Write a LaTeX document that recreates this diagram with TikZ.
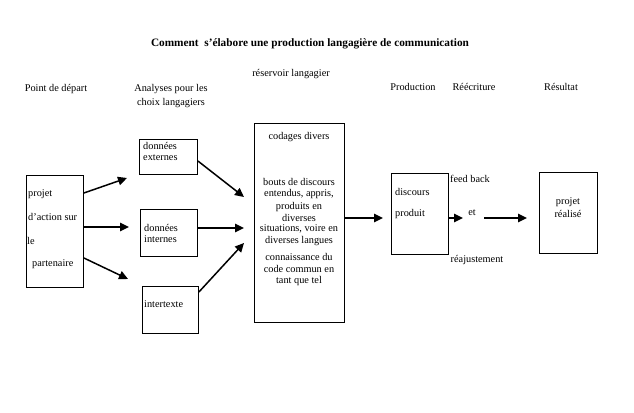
\documentclass[tikz,border=0pt]{standalone}
\usepackage{fontspec}
\setmainfont{Liberation Serif}
\usetikzlibrary{arrows.meta}
\begin{document}
\begin{tikzpicture}[x=1pt,y=-1pt,
  box/.style={draw, line width=0.9pt, inner sep=0pt, anchor=north west},
  arr/.style={line width=1.5pt, -{Triangle[length=9pt,width=8.5pt]}},
  lbl/.style={font=\fontsize{10.3}{12}\selectfont, inner sep=0pt},
  ltxt/.style={lbl, anchor=west},
  ctxt/.style={lbl, anchor=center}]
\useasboundingbox (0,0) rectangle (634,412);
\fill[white] (0,0) rectangle (634,412);

% title
\node[font=\bfseries\fontsize{11.3}{13}\selectfont, inner sep=0pt] (title) at (310,44) {Comment\ \ s'élabore une production langagière de communication};

% headers
\node[ctxt] (h1) at (56,89) {Point de départ};
\node[ctxt, align=center, font=\fontsize{10.3}{14}\selectfont] (h2) at (171,96) {Analyses pour les\\choix langagiers};
\node[ctxt] (h3) at (291,74) {réservoir langagier};
\node[ctxt] (h4) at (413,87) {Production};
\node[ctxt] (h5) at (474,87) {Réécriture};
\node[ctxt] (h6) at (561,87) {Résultat};

% boxes
\node[box, minimum width=57pt, minimum height=112pt] (dep) at (26,175) {};
\node[box, minimum width=58pt, minimum height=35pt] (ext) at (139,139) {};
\node[box, minimum width=57pt, minimum height=47pt] (int) at (140,209) {};
\node[box, minimum width=56pt, minimum height=47pt] (itx) at (142,286) {};
\node[box, minimum width=90pt, minimum height=199pt] (res) at (254,123) {};
\node[box, minimum width=57pt, minimum height=81pt] (prod) at (391,173) {};
\node[box, minimum width=58pt, minimum height=81pt] (resu) at (539,172) {};

% texts in boxes
\node[ltxt] (t1) at (28,194) {projet};
\node[ltxt] (t2) at (28,217) {d'action sur};
\node[ltxt] (t3) at (27,241) {le};
\node[ltxt] (t4) at (32,264) {partenaire};

\node[ltxt] (e1) at (143,146) {données};
\node[ltxt] (e2) at (143,158) {externes};
\node[ltxt] (i1) at (144,228) {données};
\node[ltxt] (i2) at (144,239) {internes};
\node[ltxt] (x1) at (144,304) {intertexte};

\node[ctxt] (r1) at (299,137) {codages divers};
\node[ctxt] (r2) at (299,182) {bouts de discours};
\node[ctxt] (r3) at (299,194) {entendus, appris,};
\node[ctxt] (r4) at (299,207) {produits en};
\node[ctxt] (r5) at (299,218) {diverses};
\node[ctxt] (r6) at (299,229) {situations, voire en};
\node[ctxt] (r7) at (299,241) {diverses langues};
\node[ctxt] (r8) at (299,257) {connaissance du};
\node[ctxt] (r9) at (299,269) {code commun en};
\node[ctxt] (r10) at (299,281) {tant que tel};

\node[ltxt] (p1) at (395,192) {discours};
\node[ltxt] (p2) at (395,214) {produit};

\node[ctxt] (f1) at (470,179) {feed back};
\node[ctxt] (f2) at (472,213) {et};
\node[ctxt] (f3) at (477,260) {réajustement};

\node[ctxt] (s1) at (568,202) {projet};
\node[ctxt] (s2) at (568,214) {réalisé};

% arrow end points
\coordinate (a1) at (127,178);
\coordinate (a2) at (129,227);
\coordinate (a3) at (128,279);
\coordinate (b1) at (244,197);
\coordinate (b2) at (244,228);
\coordinate (b3) at (244,243);
\coordinate (c1) at (383,218);
\coordinate (d1) at (463,218);
\coordinate (d0) at (484,218);
\coordinate (d2) at (527,218);

\draw[arr] (dep.east |- 0,193) -- (a1);
\draw[arr] (dep.east |- 0,227) -- (a2);
\draw[arr] (dep.east |- 0,258) -- (a3);
\draw[arr] (ext.east |- 0,161) -- (b1);
\draw[arr] (int.east |- 0,228) -- (b2);
\draw[arr] (itx.east |- 0,292) -- (b3);
\draw[arr] (res.east |- 0,218) -- (c1);
\draw[arr] (prod.east |- 0,218) -- (d1);
\draw[arr] (d0) -- (d2);
\end{tikzpicture}
\end{document}
